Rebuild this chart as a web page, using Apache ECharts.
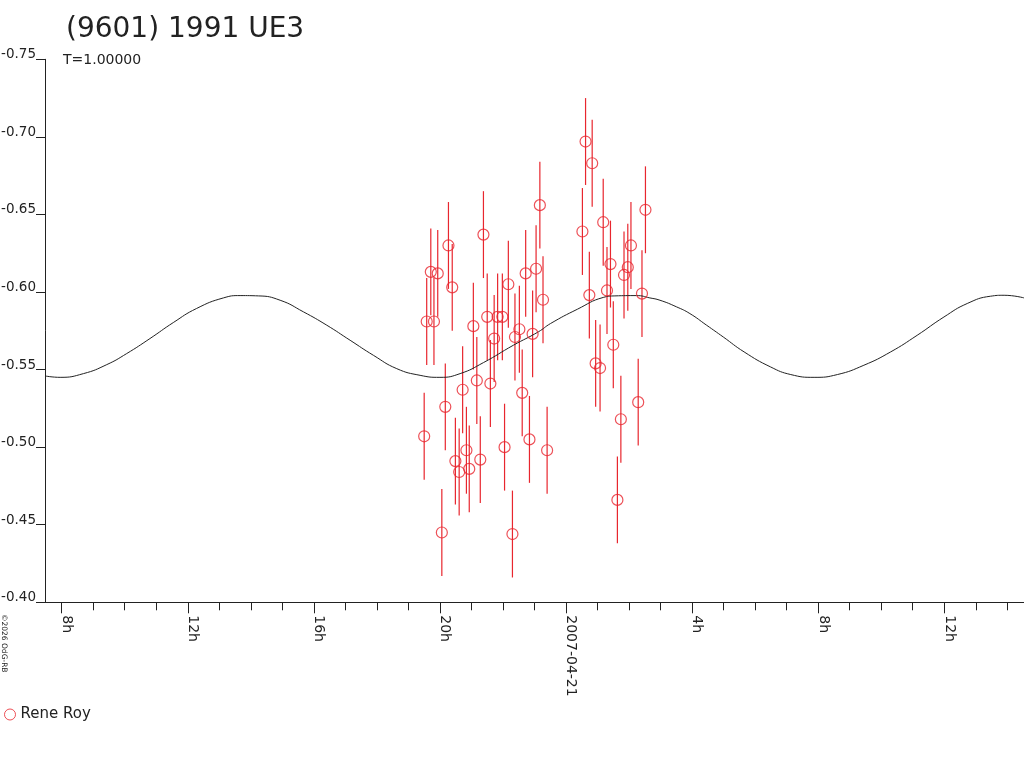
<!DOCTYPE html>
<html>
<head>
<meta charset="utf-8">
<script src="https://cdn.jsdelivr.net/npm/echarts@6/dist/echarts.min.js"></script>
<style>
html, body { margin: 0; padding: 0; background: #fff; }
#main { width: 1024px; height: 768px; }
</style>
</head>
<body>
<div id="main"></div>
<script>
// hours counted from 2007-04-20 00:00
var obsHours = [19.50, 19.58, 19.71, 19.81, 19.93, 20.06, 20.17, 20.27, 20.39, 20.49,
	20.61, 20.72, 20.84, 20.93, 21.06, 21.17, 21.28, 21.38, 21.50, 21.60,
	21.72, 21.83, 21.98, 22.05, 22.17, 22.30, 22.38, 22.52, 22.61, 22.72,
	22.84, 22.94, 23.05, 23.17, 23.27, 23.40,
	24.52, 24.62, 24.74, 24.83, 24.94, 25.08, 25.18, 25.30, 25.41, 25.50,
	25.63, 25.74, 25.84, 25.96, 26.06, 26.29, 26.41, 26.52];
var obsMags = [-0.507, -0.581, -0.613, -0.581, -0.612, -0.445, -0.526, -0.630, -0.603, -0.491,
	-0.484, -0.537, -0.498, -0.486, -0.578, -0.543, -0.492, -0.637, -0.584, -0.541,
	-0.570, -0.584, -0.584, -0.500, -0.605, -0.444, -0.571, -0.576, -0.535, -0.612,
	-0.505, -0.573, -0.615, -0.656, -0.595, -0.498,
	-0.639, -0.697, -0.598, -0.683, -0.554, -0.551, -0.645, -0.601, -0.618, -0.566,
	-0.466, -0.518, -0.611, -0.616, -0.630, -0.529, -0.599, -0.653];
var obsErr = 0.028;

// fitted curve
var curveHours = [7.47, 7.95, 8.69, 9.43, 10.06, 10.80, 11.54, 12.28, 13.13, 13.66,
	14.24, 14.93, 15.67, 16.41, 17.15, 17.89, 18.63, 19.37, 20.00, 20.64,
	21.38, 22.33, 23.12, 23.51, 24.36, 25.18, 25.55, 26.24, 26.66, 26.98,
	27.51, 27.93, 28.46, 28.99, 29.65, 30.49, 31.13, 31.87, 32.61, 33.45,
	34.30, 35.14, 35.99, 36.73, 37.47, 37.90, 38.53];
var curveMags = [-0.5459, -0.5450, -0.5474, -0.5532, -0.5603, -0.5700, -0.5803, -0.5894, -0.5962, -0.5977,
	-0.5975, -0.5947, -0.5872, -0.5786, -0.5689, -0.5592, -0.5506, -0.5463, -0.5450, -0.5474,
	-0.5545, -0.5657, -0.5743, -0.5797, -0.5889, -0.5965, -0.5975, -0.5977, -0.5962, -0.5947,
	-0.5904, -0.5861, -0.5786, -0.5710, -0.5614, -0.5517, -0.5468, -0.5450, -0.5468, -0.5528,
	-0.5614, -0.5721, -0.5839, -0.5926, -0.5973, -0.5979, -0.5962];

var minorTicks = [8, 9, 10, 11, 12, 13, 14, 15, 16, 17, 18, 19, 20, 21, 22, 23, 24,
	25, 26, 27, 28, 29, 30, 31, 32, 33, 34, 35, 36, 37, 38];
var majorTicks = [8, 12, 16, 20, 24, 28, 32, 36];

var RED = '#e8262e';
var INK = '#222';
var FONT = 'DejaVu Sans';

function hourLabel(v) {
	if (v === 24) return '2007-04-21';
	return (v % 24) + 'h';
}

var myChart = echarts.init(document.getElementById('main'));

var errData = obsHours.map(function (h, i) {
	return [h, obsMags[i] - obsErr, obsMags[i] + obsErr];
});
var obsData = obsHours.map(function (h, i) {
	return [h, obsMags[i]];
});
var curveData = curveHours.map(function (h, i) {
	return [h, curveMags[i]];
});

var option = {
	animation: false,
	title: [
		{
			text: '(9601) 1991 UE3',
			left: 66, top: 16, padding: 0,
			textStyle: {fontFamily: FONT, fontSize: 28, fontWeight: 'normal', color: INK}
		},
		{
			text: 'T=1.00000',
			left: 63, top: 53, padding: 0,
			textStyle: {fontFamily: FONT, fontSize: 14, fontWeight: 'normal', color: INK}
		}
	],
	graphic: [
		{
			type: 'text',
			x: 0, y: 614,
			rotation: -Math.PI / 2,
			style: {text: '©2026 OdG-RB', font: '7.5px "DejaVu Sans"', fill: INK, verticalAlign: 'bottom'}
		}
	],
	legend: {
		left: 4, top: 707, padding: 0,
		itemWidth: 11, itemHeight: 11, itemGap: 10,
		textStyle: {fontFamily: FONT, fontSize: 15, color: INK},
		data: [{name: 'Rene Roy', icon: 'circle',
			itemStyle: {color: 'transparent', borderColor: RED, borderWidth: 1}}]
	},
	grid: {left: 45, right: 0, top: 59.3, bottom: 165.7, outerBoundsMode: 'none', containLabel: false},
	xAxis: [
		{
			type: 'value', min: 7.47, max: 38.53,
			axisLine: {show: true, lineStyle: {color: INK, width: 1}},
			axisTick: {show: true, length: 8, customValues: minorTicks, lineStyle: {color: INK}},
			axisLabel: {show: false},
			splitLine: {show: false}
		},
		{
			type: 'value', min: 7.47, max: 38.53, position: 'bottom',
			axisLine: {show: false},
			axisTick: {show: true, length: 11, customValues: majorTicks, lineStyle: {color: INK}},
			axisLabel: {
				customValues: majorTicks, formatter: hourLabel,
				rotate: -90, margin: 13, align: 'left', verticalAlign: 'bottom', lineHeight: 10,
				fontFamily: FONT, fontSize: 14, color: INK
			},
			splitLine: {show: false}
		}
	],
	yAxis: {
		type: 'value', inverse: true, min: -0.75, max: -0.40, interval: 0.05,
		axisLine: {show: true, lineStyle: {color: INK, width: 1}},
		axisTick: {show: true, length: 9, lineStyle: {color: INK}},
		axisLabel: {
			formatter: function (v) { return v.toFixed(2); },
			margin: 9, verticalAlign: 'bottom', lineHeight: 9,
			fontFamily: FONT, fontSize: 13.5, color: INK
		},
		splitLine: {show: false}
	},
	series: [
		{
			type: 'line', name: 'fit', data: curveData, smooth: true,
			showSymbol: false, silent: true,
			lineStyle: {color: INK, width: 1}
		},
		{
			type: 'custom', name: 'err', data: errData,
			encode: {x: 0, y: [1, 2]},
			renderItem: function (params, api) {
				var a = api.coord([api.value(0), api.value(1)]);
				var b = api.coord([api.value(0), api.value(2)]);
				return {
					type: 'line',
					shape: {x1: a[0], y1: a[1], x2: b[0], y2: b[1]},
					style: {stroke: RED, lineWidth: 1.2}
				};
			},
			z: 3
		},
		{
			type: 'scatter', name: 'Rene Roy', data: obsData,
			symbol: 'circle', symbolSize: 11,
			itemStyle: {color: 'transparent', borderColor: RED, borderWidth: 1.2},
			z: 4
		}
	]
};

myChart.setOption(option);
</script>
</body>
</html>
